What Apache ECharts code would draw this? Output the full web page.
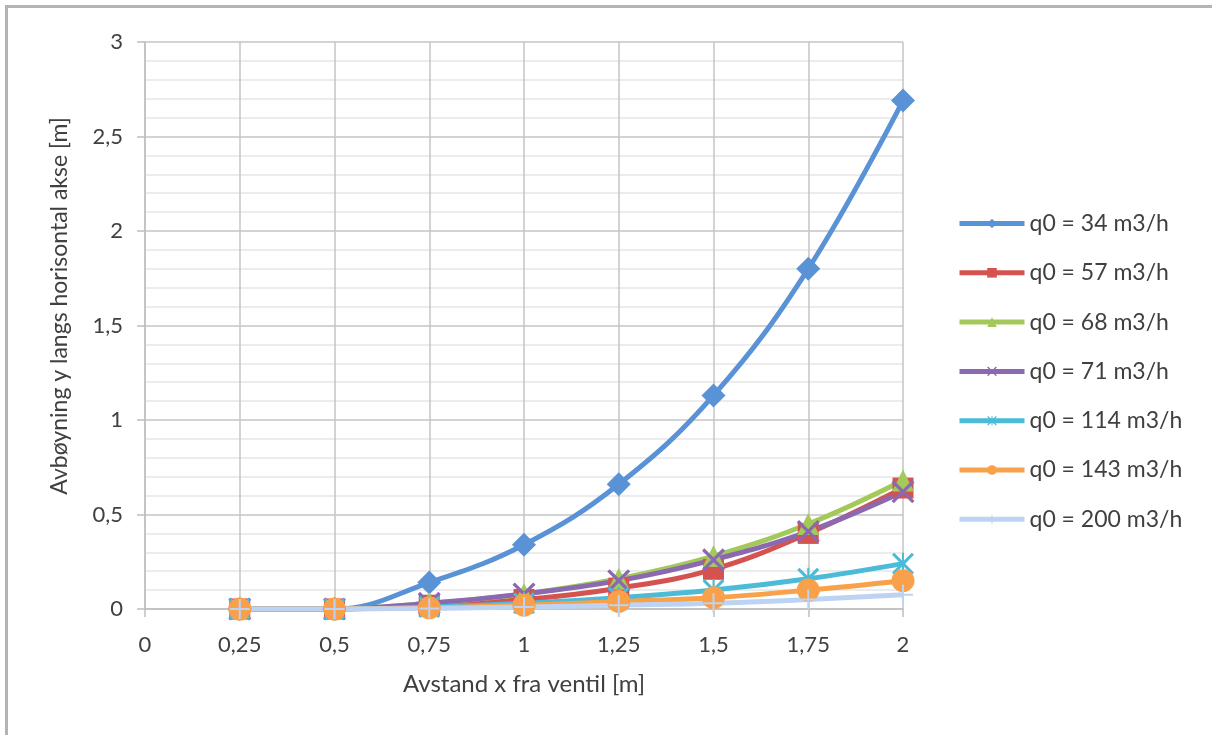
<!DOCTYPE html>
<html>
<head>
<meta charset="utf-8">
<script src="https://cdn.jsdelivr.net/npm/echarts@6/dist/echarts.min.js"></script>
<style>
  html, body { margin: 0; padding: 0; background: #ffffff; }
  #chart { width: 1212px; height: 735px; }
</style>
</head>
<body>
<div id="chart"></div>
<script>
// Distance from the valve [m]
const xValues = [0.25, 0.5, 0.75, 1, 1.25, 1.5, 1.75, 2];

// Deflection y along the horizontal axis [m], one list per flow rate
const q34  = [0, 0, 0.14, 0.34, 0.66, 1.13, 1.80, 2.69];
const q57  = [0, 0, 0.02, 0.05, 0.11, 0.21, 0.40, 0.64];
const q68  = [0, 0, 0.03, 0.08, 0.16, 0.28, 0.45, 0.68];
const q71  = [0, 0, 0.03, 0.08, 0.15, 0.26, 0.41, 0.62];
const q114 = [0, 0, 0.01, 0.03, 0.06, 0.10, 0.16, 0.24];
const q143 = [0, 0, 0.006, 0.02, 0.04, 0.06, 0.10, 0.15];
const q200 = [0, 0, 0.003, 0.01, 0.02, 0.03, 0.05, 0.075];

const seriesNames = [
  'q0 = 34 m3/h', 'q0 = 57 m3/h', 'q0 = 68 m3/h', 'q0 = 71 m3/h',
  'q0 = 114 m3/h', 'q0 = 143 m3/h', 'q0 = 200 m3/h'
];

// Tick labels with decimal comma
const xTickLabels = ['0', '0,25', '0,5', '0,75', '1', '1,25', '1,5', '1,75', '2'];
const yTickLabels = ['0', '0,5', '1', '1,5', '2', '2,5', '3'];

const xTitle = 'Avstand x fra ventil [m]';
const yTitle = 'Avbøyning y langs horisontal akse [m]';

// Marker shapes
const crossPath = 'path://M0,1 L1,0 L5,4 L9,0 L10,1 L6,5 L10,9 L9,10 L5,6 L1,10 L0,9 L4,5 Z';
const starPath = 'path://M0,1 L1,0 L5,4 L9,0 L10,1 L6,5 L10,9 L9,10 L5,6 L1,10 L0,9 L4,5 Z M4.55,0 L5.45,0 L5.45,10 L4.55,10 Z';
const plusPath = 'path://M4.5,0 L5.5,0 L5.5,4.5 L10,4.5 L10,5.5 L5.5,5.5 L5.5,10 L4.5,10 L4.5,5.5 L0,5.5 L0,4.5 L4.5,4.5 Z';

const styles = [
  { color: '#5a92d6', symbol: 'diamond',  size: 24 },
  { color: '#d4524f', symbol: 'rect',     size: 21 },
  { color: '#a4c95b', symbol: 'triangle', size: 22 },
  { color: '#8b69b0', symbol: crossPath,  size: 23 },
  { color: '#4bbbd8', symbol: starPath,   size: 22 },
  { color: '#f9a04a', symbol: 'circle',   size: 23 },
  { color: '#bcd3f3', symbol: plusPath,   size: 20 }
];

const allValues = [q34, q57, q68, q71, q114, q143, q200];

const fontFamily = 'Lato, "Open Sans", sans-serif';

const chart = echarts.init(document.getElementById('chart'), null, { renderer: 'canvas' });

const series = allValues.map((vals, i) => ({
  name: seriesNames[i],
  type: 'line',
  smooth: 0.4,
  data: xValues.map((x, k) => [x, vals[k]]),
  symbol: styles[i].symbol,
  symbolSize: styles[i].size,
  showAllSymbol: true,
  lineStyle: { color: styles[i].color, width: 5 },
  itemStyle: { color: styles[i].color },
  emphasis: { disabled: true },
  animation: false
}));

const toLabel = (v, list) => {
  const s = String(Math.round(v * 100) / 100).replace('.', ',');
  return list.indexOf(s) >= 0 ? s : '';
};

chart.setOption({
  backgroundColor: '#ffffff',
  animation: false,
  textStyle: { fontFamily: fontFamily },
  grid: { left: 145, right: 309, top: 42, bottom: 126 },
  legend: {
    orient: 'vertical',
    left: 952,
    top: 207,
    itemWidth: 65,
    itemHeight: 12,
    itemGap: 26.3,
    selectedMode: false,
    lineStyle: { width: 5 },
    textStyle: { fontFamily: fontFamily, fontSize: 23, color: '#404040' },
    data: seriesNames
  },
  xAxis: {
    type: 'value',
    min: 0,
    max: 2,
    interval: 0.25,
    name: xTitle,
    nameLocation: 'middle',
    nameGap: 63,
    nameTextStyle: { fontFamily: fontFamily, fontSize: 24, color: '#404040' },
    axisLine: { show: true, onZero: false, lineStyle: { color: '#bfbfbf', width: 1.5 } },
    axisTick: { show: true, length: 8, lineStyle: { color: '#bfbfbf', width: 1.5 } },
    axisLabel: {
      margin: 25,
      fontSize: 22,
      color: '#404040',
      fontFamily: fontFamily,
      formatter: v => toLabel(v, xTickLabels)
    },
    splitLine: { show: true, lineStyle: { color: '#c4c4c4', width: 1.5 } }
  },
  yAxis: {
    type: 'value',
    min: 0,
    max: 3,
    interval: 0.5,
    axisLine: { show: true, lineStyle: { color: '#bfbfbf', width: 1.5 } },
    axisTick: { show: true, length: 8, lineStyle: { color: '#bfbfbf', width: 1.5 } },
    axisLabel: {
      margin: 22,
      fontSize: 22,
      color: '#404040',
      fontFamily: fontFamily,
      formatter: v => toLabel(v, yTickLabels)
    },
    splitLine: { show: true, lineStyle: { color: '#c4c4c4', width: 1.5 } },
    minorTick: { show: false, splitNumber: 5 },
    minorSplitLine: { show: true, lineStyle: { color: '#e6e6e6', width: 1.5 } }
  },
  graphic: [
    // chart frame edges along the top and left
    { type: 'rect', left: 5, top: 5, shape: { width: 1207, height: 3 }, style: { fill: '#b3b3b3' }, silent: true },
    { type: 'rect', left: 5, top: 5, shape: { width: 3, height: 730 }, style: { fill: '#b3b3b3' }, silent: true },
    // vertical axis title
    {
      type: 'text',
      x: 60,
      y: 306,
      rotation: Math.PI / 2,
      silent: true,
      style: {
        text: yTitle,
        x: 0,
        y: 0,
        align: 'center',
        verticalAlign: 'middle',
        fontFamily: fontFamily,
        fontSize: 23,
        fill: '#404040'
      }
    }
  ],
  series: series
});
</script>
</body>
</html>
